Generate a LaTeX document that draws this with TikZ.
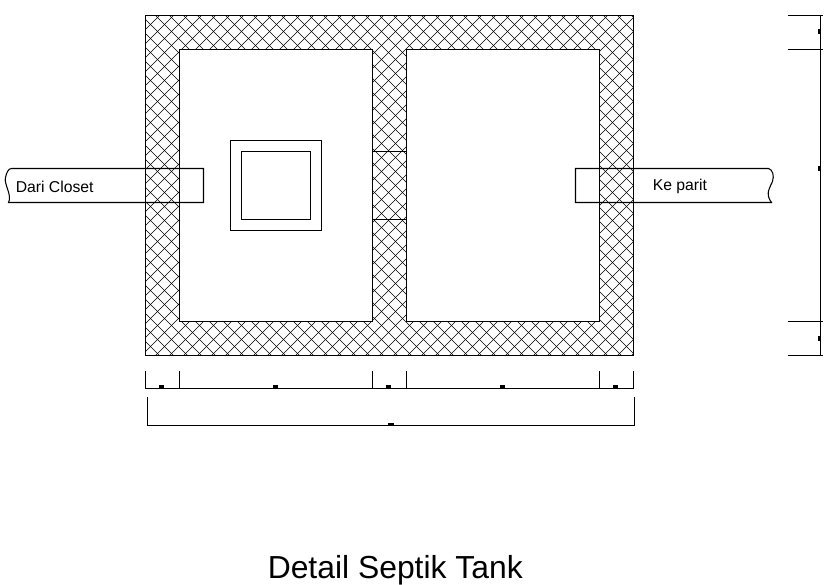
\documentclass[tikz,border=0pt]{standalone}
\usepackage{fontspec}
\setmainfont{Liberation Sans}
\tikzset{
	wall/.style={line width=0.8pt},
	hatch/.style={line width=0.5pt},
	mark box/.style={fill=black, draw=none},
	label text/.style={inner sep=0pt, anchor=base west, font=\fontsize{11.8}{14}\selectfont}
}
\begin{document}
\begin{tikzpicture}[x=0.75pt, y=-0.75pt]
	\useasboundingbox (-0.5, -0.5) rectangle (825.5, 584.5);
	% hatching of the walls
	\begin{scope}[even odd rule]
	\clip (145, 15) rectangle (633, 355) (179, 49) rectangle (372, 321) (406, 49) rectangle (599, 321);
	\foreach \c in {0, 14, ..., 840} {
		\draw[hatch] (145 + \c, 15) -- (145 + \c - 340, 355);
		\draw[hatch] (145 + \c - 340, 15) -- (145 + \c, 355);
	}
	\end{scope}
	\draw[wall] (145, 15) rectangle (633, 355);
	\draw[wall] (179, 49) rectangle (372, 321);
	\draw[wall] (406, 49) rectangle (599, 321);
	\draw[wall] (372, 151) -- (406, 151);
	\draw[wall] (372, 219) -- (406, 219);
	% manhole
	\draw[wall] (230, 140) rectangle (321, 230);
	\draw[wall] (241, 151) rectangle (310, 219);
	% pipes
	\draw[wall] (11, 168) -- (203, 168) -- (203, 202) -- (8, 202) .. controls (12, 195) and (3, 183) .. (5, 177) .. controls (6, 172) and (8, 168) .. (11, 168);
	\draw[wall] (768, 168) -- (575, 168) -- (575, 202) -- (771, 202) .. controls (764, 193) and (770, 186) .. (772, 181) .. controls (774, 175) and (772, 169) .. (768, 168);
	\node[label text] (dari) at (15, 192) {Dari Closet};
	\node[label text] (ke) at (652, 190) {Ke parit};
	% dimensions below
	\draw[wall] (145, 388) -- (633, 388);
	\foreach \x in {145, 179, 372, 406, 599, 633} {
		\draw[wall] (\x, 370) -- (\x, 388);
	}
	\foreach \x in {161, 275, 388, 502, 615} {
		\fill[mark box] (\x - 2.5, 384) rectangle (\x + 2.5, 388);
	}
	\draw[wall] (147, 396) -- (147, 425) -- (634, 425) -- (634, 396);
	\fill[mark box] (387, 422) rectangle (393, 425);
	% dimensions right
	\draw[wall] (820, 15) -- (820, 355);
	\foreach \y in {15, 49, 321, 355} {
		\draw[wall] (787, \y) -- (822, \y);
	}
	\foreach \y in {31, 168, 338} {
		\fill[mark box] (817, \y - 2.5) rectangle (820, \y + 2.5);
	}
	\node[inner sep=0pt, anchor=base west, font=\fontsize{23.9}{28}\selectfont] (title) at (267, 577.7) {Detail Septik Tank};
\end{tikzpicture}
\end{document}
